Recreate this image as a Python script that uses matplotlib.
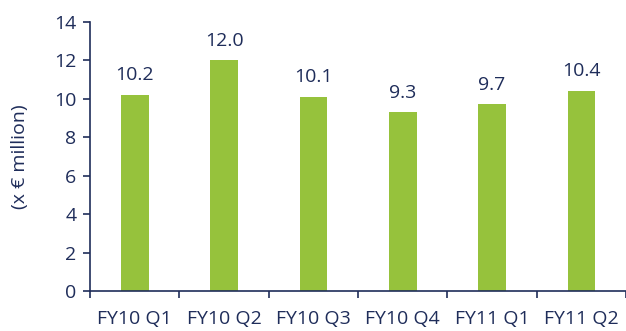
import numpy as np
import matplotlib.pyplot as plt

# ===== DATA =====
quarters = ["FY10 Q1", "FY10 Q2", "FY10 Q3", "FY10 Q4", "FY11 Q1", "FY11 Q2"]
values = [10.2, 12.0, 10.1, 9.3, 9.7, 10.4]
value_labels = ["10.2", "12.0", "10.1", "9.3", "9.7", "10.4"]

navy = "#1f2d5a"
green = "#96c23c"

plt.rcParams["font.family"] = ["Open Sans", "DejaVu Sans"]
fs = 14

fig = plt.figure(figsize=(6.26, 3.31), dpi=100)
ax = fig.add_axes([0.144, 0.121, 0.856, 0.813])

x = np.arange(len(quarters))
ax.bar(x, values, width=0.31, color=green)

for xi, v, lab in zip(x, values, value_labels):
    ax.text(xi, v + 0.55, lab, ha="center", va="bottom", fontsize=fs, color=navy)

ax.set_xlim(-0.5, len(quarters) - 0.5)
ax.set_ylim(0, 14)
ax.set_yticks(range(0, 15, 2))

# category labels centred, ticks at the boundaries
ax.set_xticks(x)
ax.set_xticklabels(quarters)
ax.set_xticks(np.arange(-0.5, len(quarters)), minor=True)
ax.tick_params(axis="x", which="major", length=0, pad=14, labelsize=fs, labelcolor=navy)
ax.tick_params(axis="x", which="minor", length=5, width=1.2, color=navy)
ax.tick_params(axis="y", length=5, width=1.2, color=navy, labelsize=fs, labelcolor=navy, pad=5)

ax.set_ylabel("(x € million)", fontsize=fs, color=navy, labelpad=18)

for side in ["top", "right"]:
    ax.spines[side].set_visible(False)
for side in ["left", "bottom"]:
    ax.spines[side].set_color(navy)
    ax.spines[side].set_linewidth(1.2)

fig.savefig("out.png", dpi=100)
